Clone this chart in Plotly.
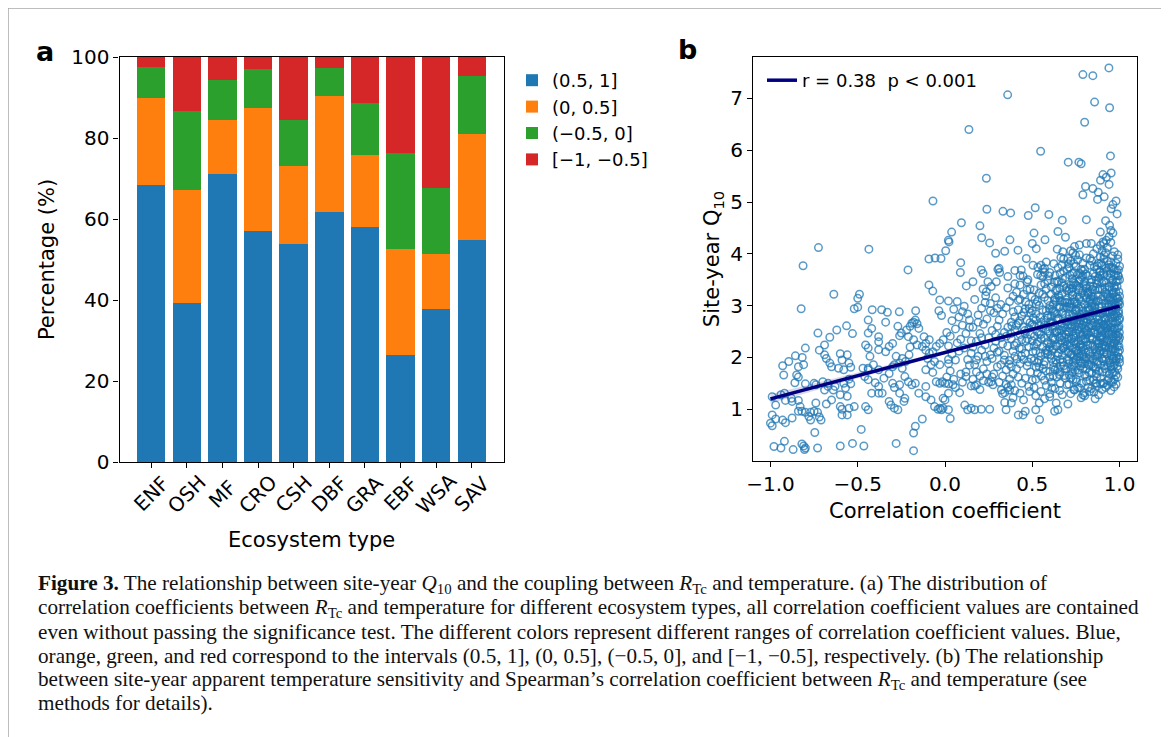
import plotly.graph_objects as go

# page body adds an 8 px margin, so the figure is 8 px smaller and all pixel positions are offset by 8
OFF = 8
W, H = 1169 - OFF, 737 - OFF

# ---------------- Panel a data ----------------
ecosystems = ["ENF", "OSH", "MF", "CRO", "CSH", "DBF", "GRA", "EBF", "WSA", "SAV"]
pct_r_05_1 = [68.3, 39.3, 71.1, 57.0, 53.9, 61.7, 58.0, 26.3, 37.9, 54.7]    # (0.5, 1]
pct_r_0_05 = [21.5, 27.8, 13.4, 30.4, 19.2, 28.6, 17.7, 26.2, 13.5, 26.2]    # (0, 0.5]
pct_r_m05_0 = [7.7, 19.5, 9.9, 9.6, 11.4, 7.0, 12.9, 23.7, 16.3, 14.3]       # (-0.5, 0]
pct_r_m1_m05 = [2.5, 13.4, 5.6, 3.0, 15.5, 2.7, 11.4, 23.8, 32.3, 4.8]       # [-1, -0.5]
bin_labels = ["(0.5, 1]", "(0, 0.5]", "(\u22120.5, 0]", "[\u22121, \u22120.5]"]
bin_colors = ["#1f77b4", "#ff7f0e", "#2ca02c", "#d62728"]
pct_ticks = [0, 20, 40, 60, 80, 100]

# ---------------- Panel b data (correlation coefficient, site-year Q10) ----------------
pts_left_upper = [(-0.725,4.12),(-0.436,4.09),(-0.813,3.77),(-0.212,3.69),(-0.637,3.22),(-0.49,3.22),(-0.5,3.14),
    (-0.824,2.94),(-0.52,2.94),(-0.5,2.97),(-0.417,2.92),(-0.363,2.92),(-0.33,2.87),(-0.262,2.88),(-0.168,2.9),
    (-0.44,2.72),(-0.34,2.68),(-0.18,2.68),(-0.092,3.9),(-0.057,3.92),(-0.023,3.91),(0.023,4.23),(-0.092,3.4),
    (-0.07,3.28),(-0.03,3.11),(0.02,3.09),(-0.035,2.9),(-0.02,2.81),(-0.069,5.02)]
pts_left_mid = [(-0.728,2.47),(-0.62,2.53),(-0.564,2.61),(-0.53,2.46),(-0.66,2.39),(-0.69,2.24),(-0.72,2.14),
    (-0.8,2.18),(-0.857,2.03),(-0.895,1.92),(-0.93,1.84),(-0.924,1.66),(-0.818,2.0),(-0.81,1.86),(-0.84,1.82),
    (-0.85,1.66),(-0.84,1.62),(-0.86,1.51),(-0.8,1.49),(-0.75,1.5),(-0.74,1.47),(-0.94,1.28),(-0.92,1.31),
    (-0.99,1.24),(-0.914,1.17),(-0.88,1.21),(-0.876,1.15),(-0.84,1.17),(-0.83,1.05),(-0.97,1.08),(-0.99,0.89),
    (-1.0,0.73),(-0.99,0.68),(-0.97,0.81),(-0.93,0.79),(-0.914,0.74),(-0.876,0.83),(-0.84,0.96),(-0.82,0.96),
    (-0.8,0.94),(-0.77,0.94),(-0.75,0.96),(-0.73,0.94),(-0.72,0.85),(-0.71,0.79),(-0.77,0.79),(-0.78,0.86),
    (-0.74,1.12),(-0.746,0.55)]
pts_left_low = [(-0.98,0.28),(-0.94,0.25),(-0.92,0.38),(-0.87,0.22),(-0.82,0.33),(-0.81,0.29),(-0.8,0.25),
    (-0.805,0.22),(-0.73,0.25),(-0.6,0.29),(-0.53,0.34),(-0.465,0.29),(-0.48,0.61),(-0.28,0.34),(-0.18,0.2),
    (-0.18,0.54),(-0.17,0.67),(-0.13,0.81)]
pts_left_cloud = [(-0.69,2.05),(-0.68,1.98),(-0.66,1.89),(-0.65,1.82),(-0.6,2.07),(-0.59,1.95),(-0.56,2.05),
    (-0.55,1.89),(-0.54,1.81),(-0.61,1.79),(-0.58,1.76),(-0.58,1.5),(-0.55,1.58),(-0.54,1.49),(-0.57,1.41),
    (-0.63,1.44),(-0.67,1.5),(-0.7,1.53),(-0.67,1.44),(-0.69,1.37),(-0.64,1.37),(-0.6,1.28),(-0.56,1.25),
    (-0.6,1.05),(-0.59,1.0),(-0.55,1.02),(-0.52,1.05),(-0.59,0.89),(-0.56,0.89),(-0.65,1.18),(-0.68,1.1),
    (-0.455,2.24),(-0.44,2.18),(-0.43,2.02),(-0.38,2.4),(-0.38,2.3),(-0.38,2.15),(-0.44,2.47),(-0.42,2.56),
    (-0.41,1.86),(-0.38,1.76),(-0.44,1.79),(-0.47,1.79),(-0.44,1.76),(-0.46,1.63),(-0.44,1.57),(-0.4,1.51),
    (-0.38,1.44),(-0.35,1.6),(-0.32,1.69),(-0.29,1.86),(-0.28,2.02),(-0.34,2.11),(-0.32,2.21),(-0.3,2.27),
    (-0.26,2.42),(-0.27,2.6),(-0.25,2.47),(-0.22,2.53),(-0.2,2.6),(-0.19,2.66),(-0.17,2.72),(-0.16,2.65),
    (-0.15,2.56),(-0.21,2.4),(-0.18,2.34),(-0.16,2.24),(-0.2,2.2),(-0.13,2.21),(-0.11,2.27),(-0.09,2.34),
    (-0.12,2.4),(-0.11,2.14),(-0.09,2.08),(-0.07,2.11),(-0.05,2.21),(-0.03,2.27),(-0.01,2.34),(-0.1,1.98),
    (-0.06,1.92),(-0.03,1.86),(-0.08,1.86),(-0.11,1.76),(-0.07,1.71),(-0.245,1.98),(-0.226,1.92),(-0.206,2.05),
    (-0.26,1.89),(-0.3,1.82),(-0.245,1.79),(-0.23,1.63),(-0.21,1.53),(-0.19,1.47),(-0.17,1.5),(-0.3,1.5),
    (-0.29,1.42),(-0.26,1.47),(-0.38,1.31),(-0.42,1.31),(-0.36,1.31),(-0.32,1.15),(-0.31,1.08),(-0.29,1.02),
    (-0.27,0.99),(-0.235,1.15),(-0.23,1.21),(-0.26,1.31),(-0.455,1.05),(-0.44,0.99),(-0.15,1.31),(-0.11,1.44),
    (-0.11,1.24),(-0.08,1.18),(-0.06,1.05),(-0.04,1.0),(-0.03,1.02),(-0.02,0.99),(-0.05,1.53),(-0.03,1.5),
    (-0.015,1.53),(0.0,1.5),(0.02,1.49),(0.02,1.31),(0.0,1.18),(0.02,0.99),(0.03,0.82)]
pts_right_upper = [(0.79,7.46),(0.847,7.44),(0.939,7.59),(0.359,7.07),(0.857,6.93),(0.943,6.82),(0.8,6.54),
    (0.137,6.4),(0.548,5.98),(0.948,5.89),(0.706,5.77),(0.767,5.77),(0.78,5.74),(0.237,5.46),(0.905,5.53),
    (0.924,5.48),(0.952,5.56),(0.891,5.42),(0.94,5.34),(0.805,5.3),(0.847,5.26),(0.79,5.14),(0.878,5.19),
    (0.874,5.05),(0.912,5.1),(0.98,5.02),(0.962,4.95),(0.952,4.87),(0.986,4.77),(0.24,4.86),(0.332,4.82),
    (0.376,4.79),(0.477,4.74),(0.517,4.89),(0.595,4.76),(0.672,4.65),(0.81,4.66),(0.92,4.64),(0.094,4.6),
    (0.038,4.42),(0.019,4.26),(0.2,4.54),(0.21,4.31),(0.256,4.21),(0.372,4.27),(0.51,4.4),(0.5,4.2),
    (0.573,4.27),(0.69,4.32),(0.89,4.42),(0.943,4.55),(0.95,4.45),(0.962,4.4),(0.94,4.33),(0.924,4.26),
    (0.905,4.23),(0.81,4.2),(0.838,4.2),(0.647,4.43),(0.004,4.06),(0.09,3.83),(0.342,4.05),(0.29,4.01),
    (0.418,4.07),(0.466,3.91),(0.523,4.1),(0.704,3.91),(0.733,4.02),(0.643,4.09),(0.675,4.04),(0.742,4.14),
    (0.77,4.17),(0.504,3.78),(0.532,3.74),(0.56,3.7),(0.57,3.64),(0.088,3.64),(0.208,3.69),(0.218,3.62),
    (0.303,3.7),(0.313,3.64),(0.246,3.46),(0.294,3.46),(0.122,3.38),(0.16,3.46),(0.218,3.32),(0.237,3.27),
    (0.265,3.37),(0.233,3.19),(0.437,3.69),(0.447,3.57),(0.475,3.5),(0.43,3.4),(0.487,3.32),(0.31,3.72),
    (0.36,3.56),(0.4,3.68),(0.43,3.58)]
pts_right_low = [(0.113,1.08),(0.13,0.99),(0.15,1.02),(0.17,0.99),(0.208,1.0),(0.256,1.0),(0.342,1.13),
    (0.35,0.99),(0.38,1.12),(0.42,0.89),(0.447,0.89),(0.46,0.96),(0.52,0.99),(0.542,0.8),(0.6,1.24),
    (0.637,1.12),(0.628,0.96),(0.647,0.99),(0.704,1.1),(0.672,1.28),(0.79,1.28),(0.828,1.34),(0.742,1.37),
    (0.866,1.5),(0.905,1.5),(0.952,1.53),(0.084,1.32),(-0.011,1.21),(-0.011,1.02),(0.046,1.47),(0.15,1.45),
    (0.18,1.47),(0.275,1.47),(0.265,1.53),(0.38,1.47),(0.37,1.37),(0.43,1.31),(0.485,1.34),(0.342,1.32),
    (0.323,1.37)]
pts_blob_0_15 = [(0.01,1.62),(0.03,1.74),(0.05,1.58),(0.02,1.88),(0.06,1.95),(0.04,2.06),(0.08,2.12),
    (0.02,2.22),(0.07,2.28),(0.11,2.18),(0.09,2.35),(0.03,2.41),(0.12,2.46),(0.06,2.55),(0.1,2.62),
    (0.14,2.58),(0.04,2.71),(0.08,2.78),(0.13,2.84),(0.05,2.93),(0.11,2.99),(0.07,3.08),(0.12,1.72),
    (0.14,1.85),(0.1,1.52),(0.13,1.96),(0.15,2.08),(0.09,1.68),(0.01,2.48),(0.15,2.32),(0.06,1.42),
    (0.12,1.63),(0.14,2.72),(0.02,1.96),(0.1,2.88)]
pts_blob_15_30 = [(0.16,1.58),(0.18,1.72),(0.2,1.64),(0.17,1.86),(0.22,1.78),(0.24,1.92),(0.19,2.02),
    (0.21,2.14),(0.26,2.05),(0.23,2.24),(0.28,2.18),(0.18,2.31),(0.25,2.38),(0.29,2.31),(0.2,2.46),
    (0.27,2.52),(0.16,2.58),(0.22,2.64),(0.3,2.6),(0.24,2.74),(0.19,2.82),(0.28,2.86),(0.21,2.95),
    (0.26,3.04),(0.17,3.12),(0.29,3.15),(0.23,3.06),(0.25,1.52),(0.28,1.68),(0.3,1.82),(0.27,1.98),
    (0.17,1.45),(0.29,2.44),(0.2,1.38),(0.24,1.68),(0.16,2.2),(0.3,2.95),(0.26,2.9),(0.22,1.55),
    (0.19,2.68),(0.27,1.62),(0.23,2.02),(0.18,1.95),(0.3,2.1),(0.21,2.38)]
pts_blob_30_50 = [(0.31,1.52),(0.33,1.64),(0.35,1.76),(0.32,1.86),(0.37,1.94),(0.34,2.04),(0.39,2.12),
    (0.36,2.22),(0.41,2.28),(0.38,2.36),(0.43,2.44),(0.4,2.52),(0.45,2.58),(0.42,2.66),(0.47,2.72),
    (0.44,2.8),(0.49,2.86),(0.46,2.94),(0.48,3.02),(0.31,2.72),(0.33,2.84),(0.35,2.96),(0.37,3.08),
    (0.39,3.18),(0.41,3.26),(0.43,3.12),(0.45,3.22),(0.47,3.3),(0.32,2.38),(0.34,2.48),(0.36,2.58),
    (0.38,2.68),(0.4,2.78),(0.42,2.92),(0.44,2.16),(0.46,2.08),(0.48,2.2),(0.5,2.32),(0.31,2.12),
    (0.33,2.26),(0.35,1.48),(0.37,1.58),(0.39,1.68),(0.41,1.78),(0.43,1.88),(0.45,1.96),(0.47,1.84),
    (0.49,1.72),(0.36,1.42),(0.4,1.36),(0.44,1.5),(0.48,1.44),(0.42,1.62),(0.46,1.6),(0.5,1.56),
    (0.34,1.95),(0.38,1.82),(0.4,2.02),(0.44,2.34),(0.46,2.46),(0.48,2.56),(0.5,2.64),(0.49,2.44),
    (0.32,3.02),(0.36,3.34),(0.4,3.42),(0.42,3.1),(0.47,3.46),(0.5,2.9),(0.33,1.3),(0.39,1.22),(0.45,1.18)]
pts_blob_50_70 = [(0.51,1.42),(0.52,1.58),(0.53,1.7),(0.54,1.82),(0.51,1.94),(0.55,2.02),(0.52,2.12),
    (0.56,2.2),(0.53,2.3),(0.57,2.38),(0.54,2.46),(0.58,2.54),(0.51,2.6),(0.55,2.68),(0.59,2.76),
    (0.52,2.84),(0.56,2.92),(0.6,3.0),(0.53,3.08),(0.57,3.16),(0.54,3.24),(0.58,3.32),(0.55,3.4),
    (0.59,3.48),(0.56,3.56),(0.6,3.64),(0.57,3.72),(0.58,3.84),(0.61,1.52),(0.62,1.64),(0.63,1.76),
    (0.64,1.88),(0.61,1.98),(0.65,2.08),(0.62,2.16),(0.66,2.26),(0.63,2.34),(0.67,2.42),(0.64,2.5),
    (0.68,2.58),(0.61,2.66),(0.65,2.74),(0.69,2.82),(0.62,2.9),(0.66,2.98),(0.7,3.06),(0.63,3.14),
    (0.67,3.22),(0.64,3.3),(0.68,3.38),(0.65,3.46),(0.69,3.54),(0.66,3.62),(0.7,3.7),(0.67,3.78),
    (0.68,3.9),(0.52,1.26),(0.55,1.34),(0.58,1.46),(0.6,1.3),(0.63,1.4),(0.66,1.5),(0.69,1.6),
    (0.54,1.12),(0.57,1.2),(0.6,1.62),(0.62,1.9),(0.64,2.22),(0.66,1.72),(0.68,1.84),(0.7,1.96),
    (0.57,1.92),(0.59,2.06),(0.53,2.5),(0.55,2.36),(0.57,2.62),(0.59,2.3),(0.6,2.46),(0.61,2.8),
    (0.63,2.6),(0.65,2.4),(0.67,2.66),(0.69,2.3),(0.7,2.5),(0.51,2.22),(0.52,2.72),(0.54,3.0),
    (0.56,2.56),(0.58,2.9),(0.6,2.2),(0.62,3.02),(0.64,2.84),(0.66,3.1),(0.68,2.96),(0.7,2.7),
    (0.51,3.3),(0.53,3.6),(0.55,3.78),(0.59,3.1),(0.61,3.36),(0.63,3.58),(0.65,3.2),(0.67,3.44),
    (0.69,3.12),(0.56,1.78),(0.58,2.14),(0.62,2.38),(0.64,1.62),(0.66,1.96),(0.68,2.18),(0.7,2.24),
    (0.53,1.9),(0.57,1.56)]
pts_blob_70_85 = [(0.71,1.48),(0.72,1.6),(0.73,1.72),(0.74,1.84),(0.75,1.96),(0.76,2.08),(0.77,2.2),
    (0.78,2.32),(0.79,2.44),(0.8,2.56),(0.81,2.68),(0.82,2.8),(0.83,2.92),(0.84,3.04),(0.85,3.16),
    (0.71,3.28),(0.72,3.4),(0.73,3.52),(0.74,3.64),(0.75,3.76),(0.76,3.88),(0.77,3.98),(0.78,3.7),
    (0.79,3.58),(0.8,3.46),(0.81,3.34),(0.82,3.22),(0.83,3.1),(0.84,2.98),(0.85,2.86),(0.71,2.74),
    (0.72,2.62),(0.73,2.5),(0.74,2.38),(0.75,2.26),(0.76,2.14),(0.77,2.02),(0.78,1.9),(0.79,1.78),
    (0.8,1.66),(0.81,1.54),(0.82,1.42),(0.83,1.56),(0.84,1.7),(0.85,1.82),(0.71,1.94),(0.72,2.06),
    (0.73,2.18),(0.74,2.3),(0.75,2.42),(0.76,2.54),(0.77,2.66),(0.78,2.78),(0.79,2.9),(0.8,3.02),
    (0.81,3.14),(0.82,3.26),(0.83,3.38),(0.84,3.5),(0.85,3.62),(0.71,3.74),(0.72,3.86),(0.73,3.62),
    (0.74,3.12),(0.75,2.92),(0.76,2.72),(0.77,2.48),(0.78,2.24),(0.79,2.06),(0.8,1.88),(0.81,2.0),
    (0.82,2.12),(0.83,2.24),(0.84,2.36),(0.85,2.48),(0.715,2.22),(0.725,2.36),(0.735,2.84),(0.745,2.6),
    (0.755,3.04),(0.765,3.3),(0.775,3.5),(0.785,3.24),(0.795,2.68),(0.805,2.36),(0.815,2.44),(0.825,2.58),
    (0.835,2.72),(0.845,2.62),(0.848,2.22),(0.712,1.66),(0.728,1.82),(0.738,1.38),(0.752,1.58),
    (0.768,1.7),(0.782,1.5),(0.798,1.32),(0.812,1.78),(0.828,1.96),(0.838,1.86),(0.71,2.98),(0.73,3.2),
    (0.75,3.4),(0.77,3.16),(0.79,3.82),(0.81,3.92),(0.83,3.78),(0.85,4.0),(0.72,4.06),(0.76,3.6),
    (0.8,3.7),(0.84,3.86),(0.74,2.0),(0.78,2.58),(0.82,2.96),(0.76,1.42),(0.8,1.26),(0.72,1.3),
    (0.84,1.4),(0.78,1.22),(0.73,2.96),(0.77,2.84),(0.81,2.3),(0.83,2.06),(0.75,2.12),(0.79,2.2),
    (0.71,2.5),(0.74,2.72),(0.82,2.48),(0.85,2.66),(0.77,3.34),(0.8,3.2),(0.73,3.34),(0.83,3.28),(0.78,2.98)]
pts_blob_85_100 = [(0.86,1.5),(0.87,1.62),(0.88,1.74),(0.89,1.86),(0.9,1.98),(0.91,2.1),(0.92,2.22),
    (0.93,2.34),(0.94,2.46),(0.95,2.58),(0.96,2.7),(0.97,2.82),(0.98,2.94),(0.99,3.06),(1.0,3.18),
    (0.86,3.3),(0.87,3.42),(0.88,3.54),(0.89,3.66),(0.9,3.78),(0.91,3.9),(0.92,4.02),(0.93,3.86),
    (0.94,3.74),(0.95,3.62),(0.96,3.5),(0.97,3.38),(0.98,3.26),(0.99,3.14),(1.0,3.02),(0.86,2.9),
    (0.87,2.78),(0.88,2.66),(0.89,2.54),(0.9,2.42),(0.91,2.3),(0.92,2.18),(0.93,2.06),(0.94,1.94),
    (0.95,1.82),(0.96,1.7),(0.97,1.58),(0.98,1.66),(0.99,1.78),(1.0,1.9),(0.86,2.02),(0.87,2.14),
    (0.88,2.26),(0.89,2.38),(0.9,2.5),(0.91,2.62),(0.92,2.74),(0.93,2.86),(0.94,2.98),(0.95,3.1),
    (0.96,3.22),(0.97,3.34),(0.98,3.46),(0.99,3.58),(1.0,3.5),(0.865,2.6),(0.875,2.46),(0.885,2.98),
    (0.895,3.12),(0.905,2.86),(0.915,3.26),(0.925,3.44),(0.935,2.62),(0.945,2.24),(0.955,2.92),
    (0.965,2.4),(0.975,2.12),(0.985,2.56),(0.995,2.32),(0.998,2.72),(0.862,1.78),(0.872,1.92),
    (0.882,2.08),(0.892,1.6),(0.902,1.72),(0.912,1.84),(0.922,1.96),(0.932,1.56),(0.942,1.68),
    (0.952,2.04),(0.962,2.16),(0.972,2.28),(0.982,1.98),(0.992,2.1),(0.996,2.0),(0.86,3.56),(0.87,3.7),
    (0.88,3.82),(0.89,3.94),(0.9,4.06),(0.91,3.6),(0.92,3.72),(0.93,3.58),(0.94,3.36),(0.95,3.84),
    (0.96,3.96),(0.97,3.7),(0.98,3.82),(0.99,3.9),(1.0,3.76),(0.866,3.08),(0.878,3.2),(0.888,3.32),
    (0.898,3.44),(0.908,3.18),(0.918,3.04),(0.928,3.16),(0.938,3.12),(0.948,2.78),(0.958,3.3),
    (0.968,3.06),(0.978,2.66),(0.988,2.8),(0.994,2.9),(0.999,2.48),(0.868,2.32),(0.878,2.72),
    (0.888,2.4),(0.898,2.2),(0.908,2.64),(0.918,2.46),(0.928,2.56),(0.938,2.44),(0.948,2.5),
    (0.958,2.36),(0.968,2.56),(0.978,2.44),(0.988,2.22),(0.997,2.6),(0.96,2.02),(0.87,1.44),(0.9,1.38),
    (0.93,1.46),(0.96,1.52),(0.99,1.62),(0.88,1.28),(0.91,1.5),(0.94,1.6),(0.97,1.86),(1.0,2.14),
    (0.86,1.2),(0.92,1.42),(0.95,1.36),(0.98,1.48),(1.0,2.38),(0.87,4.1),(0.89,4.16),(0.91,4.2),
    (0.93,4.12),(0.95,4.22),(0.97,4.04),(0.99,3.98),(0.88,3.48),(0.9,3.3),(0.92,2.9),(0.94,3.02),
    (0.96,3.14),(0.98,2.84),(1.0,2.76),(0.99,2.4)]
pts_blob_dense = [(0.552,1.64),(0.566,1.86),(0.574,2.08),(0.583,2.27),(0.591,2.51),(0.604,2.69),(0.612,2.93),
    (0.626,3.11),(0.633,3.29),(0.641,3.47),(0.655,1.67),(0.662,1.83),(0.673,2.04),(0.684,2.21),(0.692,2.44),
    (0.703,2.63),(0.711,2.81),(0.724,3.03),(0.731,3.21),(0.742,3.43),(0.753,1.53),(0.761,1.75),(0.772,1.93),
    (0.781,2.13),(0.793,2.35),(0.804,2.52),(0.813,2.73),(0.822,2.91),(0.834,3.13),(0.843,3.31),(0.851,1.57),
    (0.863,1.81),(0.871,2.03),(0.882,2.19),(0.894,2.41),(0.903,2.59),(0.913,2.77),(0.921,2.97),(0.934,3.19),
    (0.942,3.37),(0.954,1.77),(0.962,1.97),(0.973,2.17),(0.981,2.37),(0.993,2.57),(0.957,2.77),(0.966,2.97),
    (0.977,3.17),(0.986,3.37),(0.994,3.57),(0.602,1.73),(0.618,2.37),(0.627,2.86),(0.645,2.03),(0.658,3.33),
    (0.667,2.52),(0.676,1.91),(0.688,3.06),(0.697,2.69),(0.706,2.11),(0.716,3.59),(0.722,1.77),(0.734,2.42),
    (0.747,2.89),(0.756,3.17),(0.763,2.31),(0.776,1.83),(0.787,2.63),(0.796,3.41),(0.807,2.09),(0.816,2.83),
    (0.826,1.71),(0.837,2.27),(0.846,3.07),(0.856,2.53),(0.867,3.49),(0.876,1.87),(0.886,2.79),(0.896,2.33),
    (0.906,3.63),(0.916,2.01),(0.926,3.23),(0.936,2.71),(0.946,1.89),(0.956,3.43),(0.966,2.27),(0.976,3.01),
    (0.986,1.83),(0.996,3.27),(0.952,2.67),(0.613,2.14),(0.637,2.73),(0.652,2.97),(0.668,2.33),(0.679,3.67),
    (0.693,1.77),(0.708,2.39),(0.718,2.97),(0.729,2.69),(0.738,3.81),(0.749,2.47),(0.758,2.77),(0.769,3.13),
    (0.779,2.41),(0.789,3.29),(0.799,1.97),(0.809,2.91),(0.819,3.57),(0.829,2.37),(0.839,2.61),(0.849,3.37),
    (0.859,2.21),(0.869,2.87),(0.879,3.09),(0.889,2.13),(0.899,2.71),(0.909,3.47),(0.919,2.57),(0.929,2.29),
    (0.939,3.79),(0.949,2.13),(0.959,2.53),(0.969,3.59),(0.979,2.33),(0.989,2.99),(0.999,1.97),(0.944,2.87),
    (0.964,1.83),(0.984,3.67),(0.974,2.77),(0.587,2.81),(0.596,3.57),(0.609,2.27),(0.622,1.81),(0.639,2.49),
    (0.648,3.73),(0.661,2.61),(0.671,3.07),(0.682,2.39),(0.699,3.29),(0.713,2.57),(0.726,3.27),(0.736,2.03),
    (0.744,3.07),(0.757,2.01),(0.767,3.47),(0.777,2.71),(0.786,2.03),(0.797,2.83),(0.806,3.61),(0.817,2.23),
    (0.827,3.07),(0.836,2.49),(0.847,1.97),(0.857,2.97),(0.866,2.11),(0.877,3.31),(0.887,2.57),(0.897,3.03),
    (0.907,1.93),(0.917,2.87),(0.927,2.07),(0.937,2.89),(0.947,3.53),(0.957,2.21),(0.967,2.83),(0.977,1.93),
    (0.987,2.69),(0.997,2.21),(0.963,3.73),(0.612,1.41),(0.657,1.36),(0.698,1.47),(0.733,1.57),(0.771,1.41),
    (0.812,1.63),(0.853,1.33),(0.891,1.49),(0.927,1.71),(0.969,1.43),(0.623,3.81),(0.664,3.93),(0.707,3.81),
    (0.748,3.97),(0.789,3.67),(0.831,3.91),(0.872,3.77),(0.911,3.97),(0.953,3.73),(0.994,3.69),(0.352,2.41),
    (0.368,1.87),(0.383,2.61),(0.397,2.23),(0.412,1.97),(0.427,2.71),(0.438,2.03),(0.452,2.87),(0.463,2.31),
    (0.478,1.91),(0.487,2.67),(0.503,2.11),(0.513,2.41),(0.522,1.81),(0.537,2.61),(0.546,2.09),(0.523,3.03),
    (0.544,2.77),(0.462,3.07),(0.497,3.17)]
pts_blob_dense2 = [(0.605,2.05),(0.615,2.55),(0.625,3.45),(0.635,1.95),(0.645,2.75),(0.655,3.15),(0.665,2.15),
    (0.675,2.85),(0.685,1.65),(0.695,3.35),(0.705,2.35),(0.715,3.05),(0.725,2.05),(0.735,3.45),(0.745,1.75),
    (0.755,2.65),(0.765,2.95),(0.775,2.25),(0.785,3.55),(0.795,2.15),(0.805,2.75),(0.815,3.25),(0.825,1.85),
    (0.835,3.45),(0.845,2.35),(0.855,3.75),(0.865,2.45),(0.875,2.05),(0.885,3.65),(0.895,2.85),(0.905,2.25),
    (0.915,3.35),(0.925,2.65),(0.935,1.85),(0.945,3.15),(0.955,2.45),(0.965,3.25),(0.975,2.55),(0.985,3.15),
    (0.995,2.85),(0.608,3.22),(0.628,2.48),(0.648,1.78),(0.668,2.88),(0.688,2.58),(0.708,1.88),(0.728,2.58),
    (0.748,2.18),(0.768,2.58),(0.788,1.88),(0.808,3.38),(0.828,2.78),(0.848,2.88),(0.868,1.68),(0.888,3.58),
    (0.908,2.38),(0.928,3.68),(0.948,2.28),(0.968,1.98),(0.988,3.48),(0.618,2.68),(0.638,3.08),(0.658,2.38),
    (0.678,2.18),(0.698,2.98),(0.718,2.28),(0.738,2.78),(0.758,3.38),(0.778,3.08),(0.798,2.48),(0.818,1.88),
    (0.838,3.18),(0.858,2.68),(0.878,2.28),(0.898,2.98),(0.918,1.78),(0.938,2.18),(0.958,2.88),(0.978,3.58),
    (0.998,3.08),(0.633,2.22),(0.653,2.54),(0.673,3.52),(0.693,2.12),(0.713,3.32),(0.733,1.92),(0.753,2.92),
    (0.773,3.62),(0.793,2.72),(0.813,2.52),(0.833,2.02),(0.853,3.12),(0.873,2.62),(0.893,3.82),(0.913,2.22),
    (0.933,2.52),(0.953,3.02),(0.973,1.72),(0.993,2.42),(0.983,2.02),(0.458,2.52),(0.472,2.36),(0.483,2.94),
    (0.494,1.98),(0.506,2.76),(0.516,3.12),(0.527,2.26),(0.538,1.94),(0.549,2.44),(0.559,3.22),(0.569,2.72),
    (0.579,1.74),(0.589,2.12),(0.598,2.94),(0.571,3.42),(0.548,3.58),(0.426,2.18),(0.409,2.62),(0.391,2.88),
    (0.377,2.46)]

# regression line and its confidence band
reg_x = [-1.0, 1.0]
reg_y = [1.20, 2.99]
band_x = [-1.0, -0.5, 0.0, 0.5, 1.0]
band_lo = [1.11, 1.60, 2.06, 2.51, 2.94]
band_hi = [1.29, 1.71, 2.13, 2.57, 3.04]
corr_ticks = [-1.0, -0.5, 0.0, 0.5, 1.0]
corr_ticktext = ["\u22121.0", "\u22120.5", "0.0", "0.5", "1.0"]
q10_ticks = [1, 2, 3, 4, 5, 6, 7]

caption_lines = [
    "<b>Figure 3.</b> The relationship between site-year <i>Q</i><sub>10</sub> and the coupling between <i>R</i><sub>Tc</sub> and temperature. (a) The distribution of",
    "correlation coefficients between <i>R</i><sub>Tc</sub> and temperature for different ecosystem types, all correlation coefficient values are contained",
    "even without passing the significance test. The different colors represent different ranges of correlation coefficient values. Blue,",
    "orange, green, and red correspond to the intervals (0.5, 1], (0, 0.5], (\u22120.5, 0], and [\u22121, \u22120.5], respectively. (b) The relationship",
    "between site-year apparent temperature sensitivity and Spearman\u2019s correlation coefficient between <i>R</i><sub>Tc</sub> and temperature (see",
    "methods for details).",
]

# ---------------- helpers (screen pixel -> paper) ----------------
def px(p):
    return (p - OFF) / W

def py(p):
    return 1 - (p - OFF) / H

all_pts = (pts_left_upper + pts_left_mid + pts_left_low + pts_left_cloud + pts_right_upper + pts_right_low
           + pts_blob_0_15 + pts_blob_15_30 + pts_blob_30_50 + pts_blob_50_70 + pts_blob_70_85
           + pts_blob_85_100 + pts_blob_dense + pts_blob_dense2)
corr_x = [p[0] for p in all_pts]
q10_y = [p[1] for p in all_pts]

fig = go.Figure()

# Panel a: stacked bars
for vals, name, col in zip([pct_r_05_1, pct_r_0_05, pct_r_m05_0, pct_r_m1_m05], bin_labels, bin_colors):
    fig.add_trace(go.Bar(x=ecosystems, y=vals, name=name, marker=dict(color=col, line=dict(width=0)),
                         width=0.8, xaxis="x", yaxis="y", legend="legend"))

# Panel b: scatter + regression
fig.add_trace(go.Scatter(x=corr_x, y=q10_y, mode="markers", showlegend=False, xaxis="x2", yaxis="y2",
                         marker=dict(symbol="circle-open", size=7.5, color="rgba(31,119,180,0.74)",
                                     line=dict(width=1.5))))
fig.add_trace(go.Scatter(x=band_x, y=band_lo, mode="lines", line=dict(width=0), showlegend=False,
                         xaxis="x2", yaxis="y2", hoverinfo="skip"))
fig.add_trace(go.Scatter(x=band_x, y=band_hi, mode="lines", line=dict(width=0), fill="tonexty",
                         fillcolor="rgba(0,0,128,0.15)", showlegend=False, xaxis="x2", yaxis="y2",
                         hoverinfo="skip"))
fig.add_trace(go.Scatter(x=reg_x, y=reg_y, mode="lines", name="r = 0.38\u00a0\u00a0p < 0.001",
                         line=dict(color="#000080", width=3.5), xaxis="x2", yaxis="y2", legend="legend2"))

axis_common = dict(showline=True, linecolor="black", linewidth=1.2, mirror=True, ticks="outside",
                   ticklen=5, tickwidth=1.2, tickcolor="black", showgrid=False, zeroline=False,
                   automargin=False,
                   tickfont=dict(family="DejaVu Sans", size=20, color="black"))

fig.update_layout(
    width=W, height=H, margin=dict(l=0, r=0, t=0, b=0, autoexpand=False),
    paper_bgcolor="white", plot_bgcolor="white", barmode="stack", bargap=0.2,
    font=dict(family="DejaVu Sans", color="black"),
    xaxis=dict(domain=[px(119.5), px(503.5)], anchor="y", type="category", range=[-0.89, 9.89],
               showticklabels=False, **axis_common),
    yaxis=dict(domain=[py(462), py(57)], anchor="x", range=[0, 100], tickvals=pct_ticks,
               title=dict(text="Percentage (%)", font=dict(size=21), standoff=10), **axis_common),
    xaxis2=dict(domain=[px(753), px(1137)], anchor="y2", range=[-1.1, 1.1], tickvals=corr_ticks,
                ticktext=corr_ticktext,
                title=dict(text="Correlation coefficient", font=dict(size=21), standoff=8), **axis_common),
    yaxis2=dict(domain=[py(461), py(57)], anchor="x2", range=[0.0, 7.8], tickvals=q10_ticks,
                title=dict(text="Site-year Q<sub>10</sub>", font=dict(size=21), standoff=4), **axis_common),
    legend=dict(x=px(512), y=py(62), xanchor="left", yanchor="top", traceorder="normal",
                font=dict(size=18, family="DejaVu Sans"), bgcolor="rgba(0,0,0,0)"),
    legend2=dict(x=px(762), y=py(62), xanchor="left", yanchor="top",
                 font=dict(size=18, family="DejaVu Sans"), bgcolor="rgba(0,0,0,0)"),
)

annotations = []
for cat in ecosystems:
    annotations.append(dict(x=cat, y=0, xref="x", yref="y", text=cat, textangle=-45, showarrow=False,
                            yshift=-32, xanchor="center", yanchor="middle",
                            font=dict(family="DejaVu Sans", size=20, color="black")))
annotations.append(dict(x=px(311.5), y=py(540), xref="paper", yref="paper", text="Ecosystem type",
                        showarrow=False, xanchor="center", yanchor="middle",
                        font=dict(family="DejaVu Sans", size=21, color="black")))
annotations.append(dict(x=px(34), y=py(51), xref="paper", yref="paper", text="<b>a</b>", showarrow=False,
                        xanchor="left", yanchor="middle", font=dict(family="DejaVu Sans", size=27, color="black")))
annotations.append(dict(x=px(676), y=py(49), xref="paper", yref="paper", text="<b>b</b>", showarrow=False,
                        xanchor="left", yanchor="middle", font=dict(family="DejaVu Sans", size=27, color="black")))
line_centers = [584, 608, 632, 656, 680, 703]
for txt, yc in zip(caption_lines, line_centers):
    annotations.append(dict(x=px(36), y=py(yc), xref="paper", yref="paper", text=txt, showarrow=False,
                            xanchor="left", yanchor="middle", align="left",
                            font=dict(family="Liberation Serif", size=21.2, color="#111111")))
fig.update_layout(annotations=annotations)

fig.add_shape(type="rect", xref="paper", yref="paper", x0=px(8), x1=px(1162), y0=py(745), y1=py(8),
              line=dict(color="#a8a8a8", width=1.5), fillcolor="rgba(0,0,0,0)", layer="below")

fig.write_html("out.html")
